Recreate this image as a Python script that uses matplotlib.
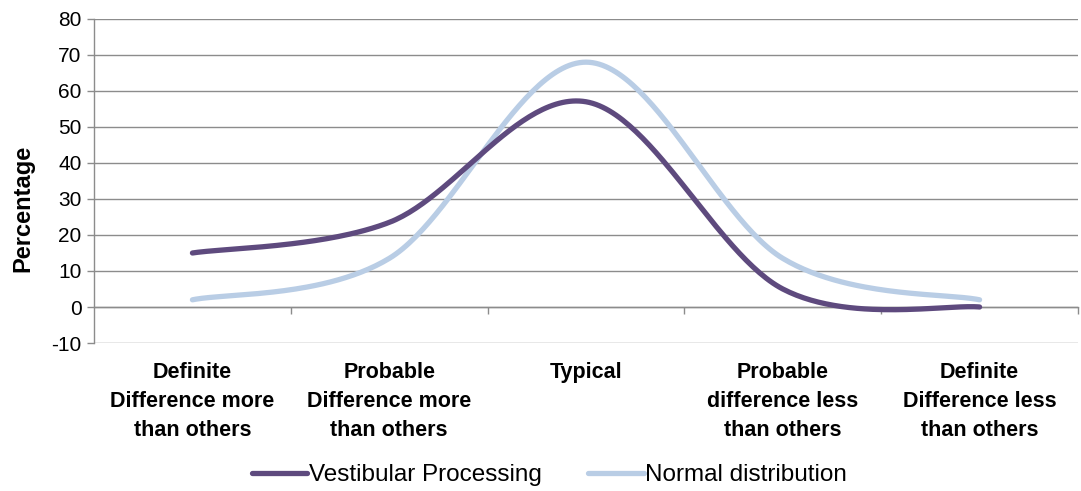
import numpy as np
import matplotlib.pyplot as plt

# ── data ─────────────────────────────────────────────────────────────────────
categories = [
    "Definite\nDifference more\nthan others",
    "Probable\nDifference more\nthan others",
    "Typical",
    "Probable\ndifference less\nthan others",
    "Definite\nDifference less\nthan others",
]
vestibular = [15, 23.5, 57, 5, 0]
normal_dist = [2, 13.5, 68, 13.5, 2]
y_ticks = list(range(-10, 90, 10))

PURPLE = "#5E4A7E"
LIGHT_BLUE = "#B9CDE5"
GRID = "#8C8C8C"


def smooth(x, y, n=60):
    """Bezier smoothing through every point (Catmull-Rom style control points)."""
    x = np.asarray(x, float)
    y = np.asarray(y, float)
    px = np.concatenate([[x[0]], x, [x[-1]]])
    py = np.concatenate([[y[0]], y, [y[-1]]])
    xs, ys = [], []
    t = np.linspace(0, 1, n)
    for i in range(len(x) - 1):
        p0 = np.array([px[i + 1], py[i + 1]])
        p3 = np.array([px[i + 2], py[i + 2]])
        c1 = p0 + (np.array([px[i + 2], py[i + 2]]) - np.array([px[i], py[i]])) / 6
        c2 = p3 - (np.array([px[i + 3], py[i + 3]]) - np.array([px[i + 1], py[i + 1]])) / 6
        b = ((1 - t) ** 3)[:, None] * p0 + (3 * (1 - t) ** 2 * t)[:, None] * c1 \
            + (3 * (1 - t) * t ** 2)[:, None] * c2 + (t ** 3)[:, None] * p3
        xs.extend(b[:, 0])
        ys.extend(b[:, 1])
    return np.array(xs), np.array(ys)


plt.rcParams["font.family"] = ["Liberation Sans", "DejaVu Sans"]
plt.rcParams["axes.unicode_minus"] = False

fig = plt.figure(figsize=(10.81, 4.91), dpi=100)
ax = fig.add_axes([0.087, 0.3014, 0.9102, 0.66])

xpos = np.arange(len(categories)) + 0.5

for vals, color, label, z in [(vestibular, PURPLE, "Vestibular Processing", 3),
                              (normal_dist, LIGHT_BLUE, "Normal distribution", 2)]:
    sx, sy = smooth(xpos, vals)
    ax.plot(sx, sy, color=color, lw=3.8, solid_capstyle="round", label=label, zorder=z)

ax.set_xlim(0, len(categories))
ax.set_ylim(-10, 80)
ax.set_yticks(y_ticks)
ax.tick_params(axis="y", length=5, width=1, color=GRID, labelsize=15, pad=4)
ax.grid(axis="y", color=GRID, lw=1.0)
ax.set_axisbelow(True)

for s in ["top", "right"]:
    ax.spines[s].set_visible(False)
ax.spines["left"].set_color(GRID)
ax.spines["left"].set_linewidth(1.0)

# category axis crosses at zero, boundary ticks point down
ax.spines["bottom"].set_position(("data", 0))
ax.spines["bottom"].set_color(GRID)
ax.spines["bottom"].set_linewidth(1.0)
ax.set_xticks(np.arange(1, len(categories) + 1))
ax.tick_params(axis="x", length=5, width=1, color=GRID, direction="out", labelbottom=False)

for x, lab in zip(xpos, categories):
    ax.text(x, -0.06, lab, transform=ax.get_xaxis_transform(), ha="center", va="top",
            fontsize=15.5, fontweight="bold", linespacing=1.5)

fig.text(0.021, 0.576, "Percentage", rotation=90, ha="center", va="center",
         fontsize=17, fontweight="bold")

leg = fig.legend(*ax.get_legend_handles_labels(), loc="center", bbox_to_anchor=(0.508, 0.032),
                 ncol=2, frameon=False, fontsize=17.5, handlelength=2.3, handletextpad=0.05,
                 columnspacing=1.9)

fig.savefig("out.png", dpi=100, facecolor="white")
